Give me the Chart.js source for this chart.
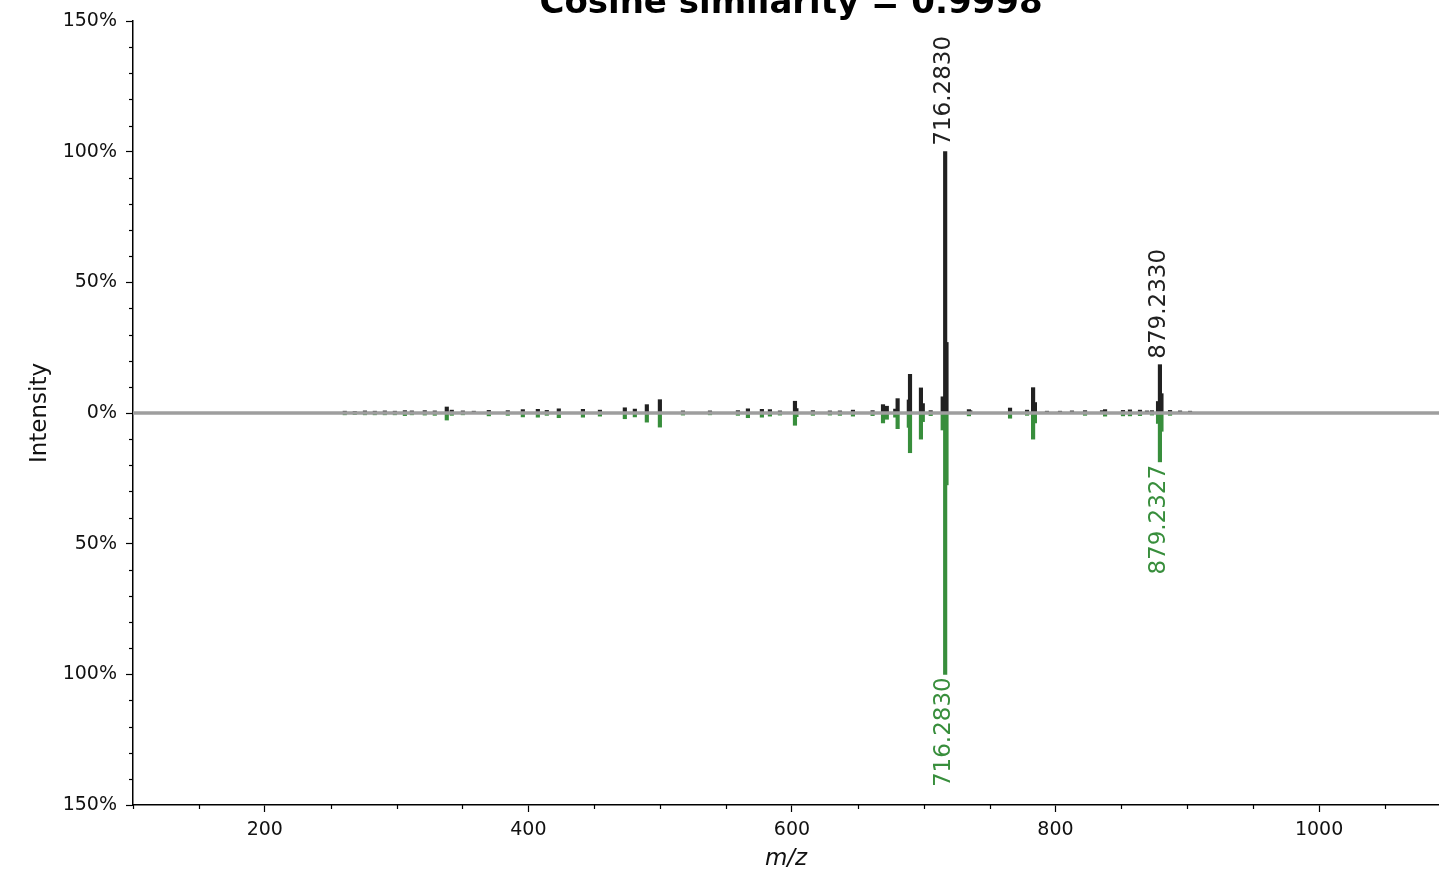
<!DOCTYPE html>
<html>
<head>
<meta charset="utf-8">
<script src="https://cdn.jsdelivr.net/npm/chart.js@4.4.1/dist/chart.umd.min.js"></script>
<style>
  html, body { margin: 0; padding: 0; background: #fff; }
  #wrap { width: 1439px; height: 873px; position: relative; }
</style>
</head>
<body>
<div id="wrap"><canvas id="spectrum"></canvas></div>
<script>
const plotTitle = 'Cosine similarity = 0.9998';

// query spectrum (top, black) - m/z and relative intensity in %
const queryMz = [
  260.7, 268.3, 276.0, 283.5, 291.1, 298.7, 306.3, 311.6, 321.4, 329.0,
  338.1, 341.9, 350.3, 358.6, 370.0, 384.4, 395.8, 407.2, 414.0, 423.1,
  441.4, 454.3, 473.2, 480.8, 489.9, 499.8, 517.3, 537.8, 559.0, 566.6,
  577.2, 583.3, 590.9, 602.3, 603.4, 615.9, 628.8, 636.4, 646.3, 661.2,
  669.1, 672.0, 678.4, 680.2, 688.7, 689.6, 697.9, 699.3, 705.3, 714.4,
  716.2830, 717.29, 734.3, 735.3, 765.5, 778.4, 783.0, 784.4, 793.5, 803.4,
  812.5, 822.4, 835.3, 837.6, 851.2, 856.5, 864.1, 869.4, 873.2, 877.8,
  879.2330, 880.4, 886.9, 894.5, 902.1
];
const queryInt = [
  0.7, 0.6, 0.8, 0.7, 0.8, 0.7, 0.9, 0.8, 0.9, 0.8,
  2.3, 1.1, 0.8, 0.7, 1.0, 0.9, 1.3, 1.4, 1.0, 1.6,
  1.4, 1.1, 2.0, 1.5, 3.2, 5.1, 0.8, 0.8, 0.9, 1.6,
  1.4, 1.3, 0.8, 4.5, 1.7, 0.9, 0.8, 0.8, 1.1, 0.9,
  3.2, 2.6, 1.5, 5.5, 5.0, 14.8, 9.6, 3.6, 0.9, 6.2,
  100, 27, 1.3, 0.9, 1.9, 1.1, 9.7, 4.0, 0.7, 0.7,
  0.8, 0.9, 0.9, 1.3, 1.0, 1.2, 1.1, 0.8, 0.9, 4.4,
  18.5, 7.4, 1.0, 0.8, 0.7
];

// reference spectrum (bottom, green)
const refMz = [
  260.7, 268.3, 276.0, 283.5, 291.1, 298.7, 306.3, 311.6, 321.4, 329.0,
  338.1, 341.9, 350.3, 370.0, 384.4, 395.8, 407.2, 414.0, 423.1, 441.4,
  454.3, 473.2, 480.8, 489.9, 499.8, 517.3, 537.8, 559.0, 566.6, 577.2,
  583.3, 590.9, 602.3, 603.4, 615.9, 628.8, 636.4, 646.3, 661.2, 669.1,
  672.0, 678.4, 680.2, 688.7, 689.6, 697.9, 699.3, 705.3, 714.4, 716.2830,
  717.29, 734.3, 765.5, 778.4, 783.0, 784.4, 822.4, 837.6, 851.2, 856.5,
  864.1, 873.2, 877.8, 879.2327, 880.4, 886.9
];
const refInt = [
  0.7, 0.6, 0.7, 0.7, 0.7, 0.7, 1.0, 0.7, 0.8, 0.9,
  2.7, 0.9, 0.7, 1.1, 0.9, 1.5, 1.6, 0.9, 1.8, 1.6,
  1.2, 2.2, 1.5, 3.5, 5.4, 0.8, 0.7, 0.9, 1.8, 1.6,
  1.2, 0.8, 4.7, 1.4, 0.9, 0.8, 0.9, 1.2, 1.0, 3.8,
  2.4, 1.6, 6.0, 5.5, 15.2, 10.0, 3.3, 1.0, 6.5, 100,
  27.5, 1.1, 2.0, 0.9, 10.0, 3.8, 0.9, 1.2, 1.1, 1.1,
  1.0, 0.8, 4.0, 18.7, 7.0, 0.9
];

// peaks that get an m/z label
const queryAnnotated = [716.2830, 879.2330];
const refAnnotated = [716.2830, 879.2327];

const yMajorTicks = [-150, -100, -50, 0, 50, 100, 150];
const xMajorTicks = [200, 400, 600, 800, 1000];

const queryColor = '#212121';
const refColor = '#388e3c';
const font = 'DejaVu Sans';

function minorValues(min, max, step, majorStep) {
  const out = [];
  for (let v = Math.ceil(min / step) * step; v <= max; v += step) {
    if (v % majorStep !== 0) out.push(v);
  }
  return out;
}

const decorations = {
  id: 'decorations',
  afterDatasetsDraw(chart) {
    const { ctx, chartArea, scales: { x, y } } = chart;
    ctx.save();
    // zero line on top of the bars
    const y0 = y.getPixelForValue(0);
    ctx.strokeStyle = '#9e9e9e';
    ctx.lineWidth = 3.5;
    ctx.beginPath();
    ctx.moveTo(chartArea.left, y0);
    ctx.lineTo(chartArea.right, y0);
    ctx.stroke();

    // peak labels
    ctx.font = '23px "' + font + '"';
    ctx.textBaseline = 'middle';
    queryAnnotated.forEach(mz => {
      const i = queryMz.indexOf(mz);
      const px = x.getPixelForValue(mz);
      const py = y.getPixelForValue(queryInt[i]);
      ctx.save();
      ctx.translate(px - 1, py - 6);
      ctx.rotate(-Math.PI / 2);
      ctx.fillStyle = queryColor;
      ctx.textAlign = 'left';
      ctx.fillText(mz.toFixed(4), 0, 0);
      ctx.restore();
    });
    refAnnotated.forEach(mz => {
      const i = refMz.indexOf(mz);
      const px = x.getPixelForValue(mz);
      const py = y.getPixelForValue(-refInt[i]);
      ctx.save();
      ctx.translate(px - 1, py + 3);
      ctx.rotate(-Math.PI / 2);
      ctx.fillStyle = refColor;
      ctx.textAlign = 'right';
      ctx.fillText(mz.toFixed(4), 0, 0);
      ctx.restore();
    });
    ctx.restore();
  },
  afterDraw(chart) {
    const { ctx, scales: { x, y } } = chart;
    ctx.save();
    ctx.strokeStyle = '#000';
    ctx.lineWidth = 1.2;
    // minor ticks
    minorValues(y.min, y.max, 10, 50).forEach(v => {
      const py = Math.round(y.getPixelForValue(v)) + 0.5;
      ctx.beginPath();
      ctx.moveTo(y.right - 4, py);
      ctx.lineTo(y.right, py);
      ctx.stroke();
    });
    minorValues(x.min, x.max, 50, 200).forEach(v => {
      const px = Math.round(x.getPixelForValue(v)) + 0.5;
      ctx.beginPath();
      ctx.moveTo(px, x.top);
      ctx.lineTo(px, x.top + 4);
      ctx.stroke();
    });
    // title (partly outside the canvas, as in the original figure)
    ctx.fillStyle = '#000';
    ctx.font = 'bold 34px "' + font + '"';
    ctx.textAlign = 'center';
    ctx.textBaseline = 'alphabetic';
    ctx.fillText(plotTitle, 791, 13);
    ctx.restore();
  }
};

new Chart(document.getElementById('spectrum'), {
  type: 'bar',
  data: {
    datasets: [
      {
        label: 'query',
        data: queryMz.map((mz, i) => ({ x: mz, y: queryInt[i] })),
        backgroundColor: queryColor,
        barThickness: 3.5,
        grouped: false,
        borderWidth: 0
      },
      {
        label: 'reference',
        data: refMz.map((mz, i) => ({ x: mz, y: -refInt[i] })),
        backgroundColor: refColor,
        barThickness: 3.5,
        grouped: false,
        borderWidth: 0
      }
    ]
  },
  options: {
    responsive: true,
    maintainAspectRatio: false,
    animation: false,
    layout: { padding: { top: 21, right: 0, left: 0, bottom: 0 } },
    plugins: {
      legend: { display: false },
      tooltip: { enabled: false },
      title: { display: false }
    },
    scales: {
      x: {
        type: 'linear',
        min: 100,
        max: 1091,
        offset: false,
        afterBuildTicks: s => { s.ticks = xMajorTicks.map(v => ({ value: v })); },
        afterFit: s => { s.height = 68; },
        ticks: {
          autoSkip: false,
          maxRotation: 0,
          padding: 7,
          color: '#111',
          font: { family: font, size: 19 },
          callback: v => String(v)
        },
        grid: { drawOnChartArea: false, tickLength: 7, tickColor: '#000', tickWidth: 1.2, offset: false },
        border: { color: '#000', width: 1.5 },
        title: {
          display: true,
          text: 'm/z',
          color: '#111',
          font: { family: font, size: 23, style: 'italic' },
          padding: { top: 1, bottom: 0 }
        }
      },
      y: {
        min: -150,
        max: 150,
        afterBuildTicks: s => { s.ticks = yMajorTicks.map(v => ({ value: v })); },
        afterFit: s => { s.width = 133; },
        ticks: {
          autoSkip: false,
          padding: 9,
          color: '#111',
          font: { family: font, size: 19 },
          callback: v => Math.abs(v) + '%'
        },
        grid: { drawOnChartArea: false, tickLength: 7, tickColor: '#000', tickWidth: 1.2 },
        border: { color: '#000', width: 1.5 },
        title: {
          display: true,
          text: 'Intensity',
          color: '#111',
          font: { family: font, size: 23 },
          padding: { top: 26, bottom: 0 }
        }
      }
    }
  },
  plugins: [decorations]
});
</script>
</body>
</html>
